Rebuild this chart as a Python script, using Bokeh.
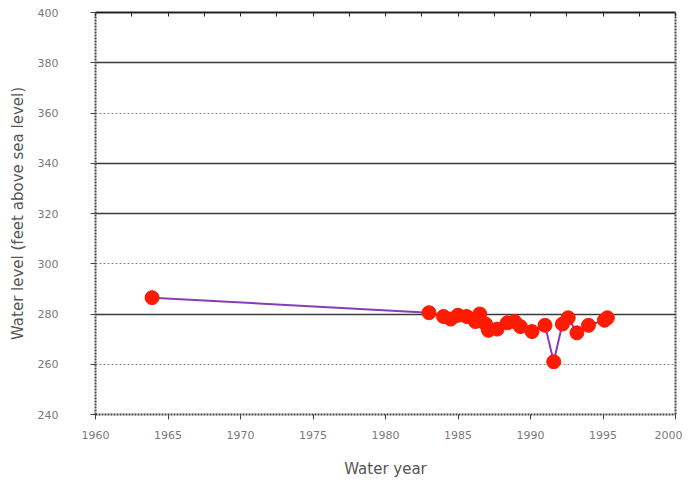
from bokeh.plotting import figure
from bokeh.models import FixedTicker, Grid, LinearAxis, Range1d
from bokeh.embed import file_html
from bokeh.resources import INLINE

# Data
years = [1963.9, 1983.0, 1984.0, 1984.5, 1985.0, 1985.6, 1986.2, 1986.5, 1986.9,
         1987.1, 1987.7, 1988.4, 1988.9, 1989.3, 1990.1, 1991.0, 1991.6, 1992.2,
         1992.6, 1993.2, 1994.0, 1995.1, 1995.3]
levels = [286.5, 280.5, 279.0, 278.0, 279.5, 279.0, 277.0, 280.0, 276.0,
          273.5, 274.0, 276.5, 277.0, 275.0, 273.0, 275.5, 261.0, 276.0,
          278.5, 272.5, 275.5, 277.5, 278.5]

x_ticks = [1960, 1965, 1970, 1975, 1980, 1985, 1990, 1995, 2000]
y_ticks = [240, 260, 280, 300, 320, 340, 360, 380, 400]
solid_grid = [280, 320, 340, 380, 400]
dotted_grid = [260, 300, 360]

FONT = "DejaVu Sans"
TICK_GRAY = "#7a7a7a"
LABEL_GRAY = "#555555"

p = figure(width=682, height=480, output_backend="svg", toolbar_location=None,
           x_range=Range1d(1960, 2000), y_range=Range1d(240, 400),
           min_border_left=95, min_border_right=7, min_border_top=12,
           min_border_bottom=65, x_axis_label="Water year",
           y_axis_label="Water level (feet above sea level)")
p.outline_line_color = None
p.background_fill_color = "white"
p.grid.visible = False

# gridlines
g1 = Grid(dimension=1, ticker=FixedTicker(ticks=solid_grid),
          grid_line_color="#3a3a3a", grid_line_width=1.5)
g2 = Grid(dimension=1, ticker=FixedTicker(ticks=dotted_grid),
          grid_line_color="#888888", grid_line_width=1.2, grid_line_dash="2 2")
p.add_layout(g1)
p.add_layout(g2)

# axes
for ax in p.xaxis:
    ax.ticker = FixedTicker(ticks=x_ticks, minor_ticks=[1962.5 + 5 * i for i in range(8)])
for ax in p.yaxis:
    ax.ticker = FixedTicker(ticks=y_ticks)
for ax in list(p.xaxis) + list(p.yaxis):
    ax.axis_line_color = "#444444"
    ax.axis_line_width = 2
    ax.axis_line_dash = "2 1"
    ax.major_tick_line_color = "#444444"
    ax.minor_tick_line_color = "#444444"
    ax.major_tick_out = 5
    ax.major_tick_in = 0
    ax.minor_tick_out = 0
    ax.minor_tick_in = 0
    ax.major_label_text_font = FONT
    ax.major_label_text_font_size = "11px"
    ax.major_label_text_color = TICK_GRAY
    ax.axis_label_text_font = FONT
    ax.axis_label_text_font_size = "15px"
    ax.axis_label_text_font_style = "normal"
    ax.axis_label_text_color = LABEL_GRAY
p.xaxis.major_label_standoff = 11
p.xaxis.axis_label_standoff = 18
p.yaxis.major_label_standoff = 32
p.yaxis.axis_label_standoff = 8

right = LinearAxis(ticker=FixedTicker(ticks=[]), major_label_text_font_size="0px",
                   axis_line_color="#444444", axis_line_width=2, axis_line_dash="2 1")
p.add_layout(right, "right")
top = LinearAxis(ticker=FixedTicker(ticks=[], minor_ticks=[1960 + 2.5 * i for i in range(17)]),
                 major_label_text_font_size="0px", axis_line_color="#222222",
                 axis_line_width=2, minor_tick_in=4, minor_tick_out=0,
                 minor_tick_line_color="#222222")
p.add_layout(top, "above")

p.line(years, levels, line_color="#8a3cb4", line_width=2)
p.scatter(years, levels, size=14, fill_color="#ff1a00", line_color="#ff1a00")

open("out.html", "w").write(file_html(p, INLINE))
